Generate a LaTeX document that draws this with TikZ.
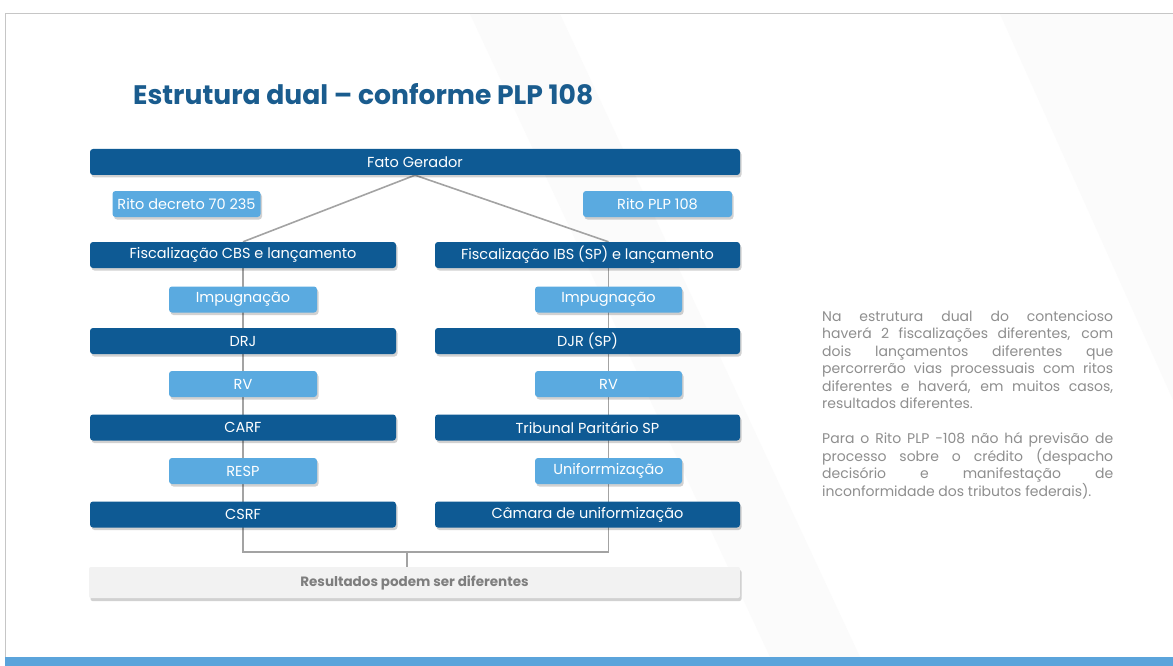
\documentclass[tikz,border=0pt]{standalone}
\usepackage{fontspec}
\usepackage{graphicx}
\setmainfont{Poppins}
\usetikzlibrary{shadows,backgrounds}
\definecolor{dblue}{HTML}{0E5A94}
\definecolor{lblue}{HTML}{5AAAE0}
\definecolor{ttl}{HTML}{1A5C8E}
\definecolor{lin}{HTML}{A3A3A3}
\definecolor{txtg}{HTML}{8E8E8E}
\definecolor{resg}{HTML}{7E7E7E}
\definecolor{resfill}{HTML}{F2F2F2}
\definecolor{barblue}{HTML}{5BA4DB}
\begin{document}
\begin{tikzpicture}[x={(1pt,0pt)}, y={(0pt,-1pt)},
  box/.style={rounded corners=3pt, inner sep=0pt, minimum height=26pt, text=white,
    font=\fontsize{14.5}{16}\selectfont,
    drop shadow={shadow xshift=1.5pt, shadow yshift=-2.5pt, opacity=0.18, fill=black}},
  dark/.style={box, fill=dblue, minimum width=306pt},
  light/.style={box, fill=lblue, minimum width=148pt},
  resbox/.style={rounded corners=2pt, inner sep=0pt, minimum height=31pt, minimum width=651pt,
    fill=resfill, text=resg, font=\fontsize{13.5}{15}\selectfont\bfseries,
    drop shadow={shadow xshift=1.5pt, shadow yshift=-3pt, opacity=0.18, fill=black}},
  conn/.style={draw=lin, line width=1.6pt},
  frame/.style={draw=gray!45, line width=1pt}]
\useasboundingbox (0,0) rectangle (1173,666);

% title
\node[anchor=base west, inner sep=0pt, text=ttl] (title) at (133,105)
  {\resizebox{460pt}{21pt}{\bfseries Estrutura dual – conforme PLP 108}};

% top
\node[dark, minimum width=650pt] (fato) at (415,162) {Fato Gerador};
\node[light] (rito1) at (186.5,204) {Rito decreto 70 235};
\node[light, minimum width=149pt] (rito2) at (657.5,204) {Rito PLP 108};

% left column
\node[dark] (fisc1) at (243,255) {Fiscalização CBS e lançamento};
\node[light] (imp1) at (243,299.5) {Impugnação};
\node[dark] (drj) at (243,341) {DRJ};
\node[light] (rv1) at (243,384) {RV};
\node[dark] (carf) at (243,427.5) {CARF};
\node[light] (resp) at (243,471) {RESP};
\node[dark] (csrf) at (243,514.5) {CSRF};

% right column
\node[dark, minimum width=305pt] (fisc2) at (587.5,255) {Fiscalização IBS (SP) e lançamento};
\node[light, minimum width=147pt] (imp2) at (608.5,299.5) {Impugnação};
\node[dark, minimum width=305pt] (djr) at (587.5,341) {DJR (SP)};
\node[light, minimum width=147pt] (rv2) at (608.5,384) {RV};
\node[dark, minimum width=305pt] (trib) at (587.5,427.5) {Tribunal Paritário SP};
\node[light, minimum width=147pt] (unif) at (608.5,471) {Uniforrmização};
\node[dark, minimum width=305pt] (cam) at (587.5,514.5) {Câmara de uniformização};

% result
\node[resbox] (res) at (414.5,582.5) {Resultados podem ser diferentes};

% side text
\node[anchor=base west, inner sep=0pt, text width=291pt, align=justify, text=txtg,
  font=\fontsize{14}{17.5}\selectfont] (para) at (822,321)
  {Na estrutura dual do contencioso\linebreak
   haverá 2 fiscalizações diferentes, com\linebreak
   dois lançamentos diferentes que\linebreak
   percorrerão vias processuais com ritos\linebreak
   diferentes e haverá, em muitos casos,\linebreak
   resultados diferentes.\par\vspace{17.5pt}
   Para o Rito PLP -108 não há previsão de\linebreak
   processo sobre o crédito (despacho\linebreak
   decisório e manifestação de\linebreak
   inconformidade dos tributos federais).};

\coordinate (jl) at (243,552);
\coordinate (jr) at (608.5,552);
\coordinate (stem) at (407,552);

\begin{pgfonlayer}{background}
  \fill[white] (0,0) rectangle (1173,666);
  \fill[gray!3] (470,14) -- (560,14) -- (860,657) -- (770,657) -- cycle;
  \fill[gray!3] (1000,14) -- (1173,14) -- (1173,400) -- cycle;
  \draw[frame] (5,657) -- (5,14) -- (1173,14);
  \fill[barblue] (5,657) rectangle (1173,666);
  \draw[conn] (fato.south) -- (fisc1.north);
  \draw[conn] (fato.south) -- (imp2.north |- fisc2.north);
  \draw[conn] (fisc1.north) -- (jl) -- (jr) -- (imp2.north |- fisc2.north);
  \draw[conn] (stem) -- (stem |- res.north);
\end{pgfonlayer}
\end{tikzpicture}
\end{document}
